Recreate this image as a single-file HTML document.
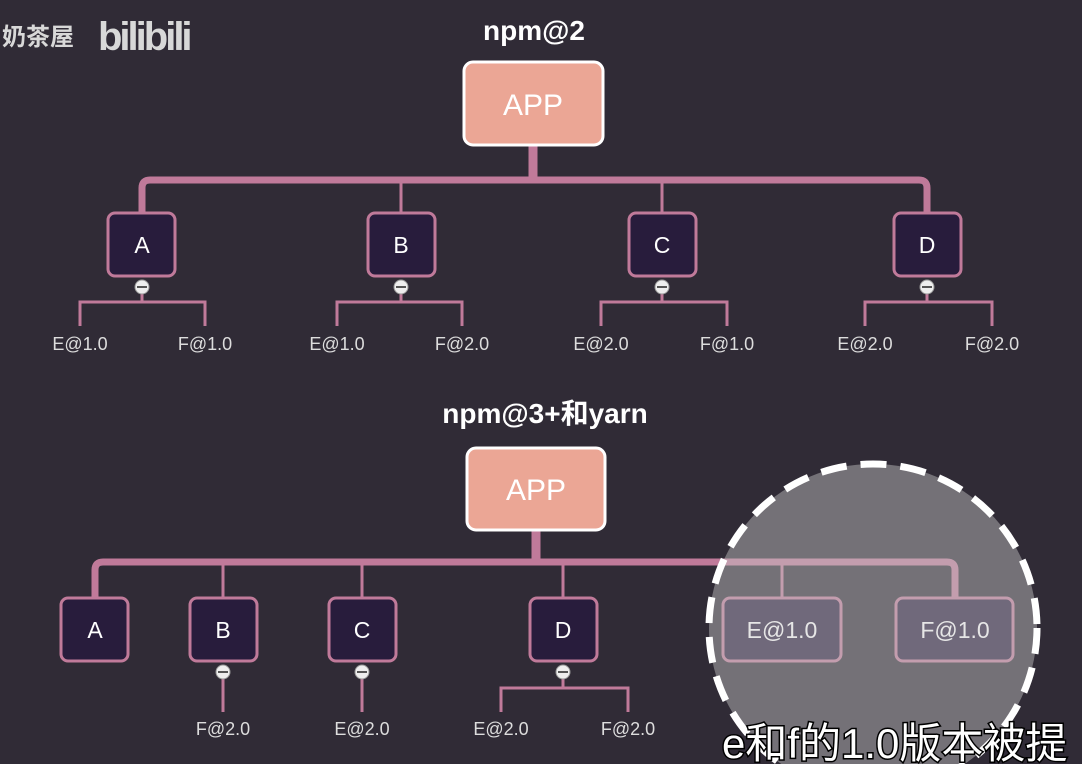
<!DOCTYPE html>
<html><head><meta charset="utf-8"><style>
html,body{margin:0;padding:0;background:#302b36;}
svg{display:block}
text{font-family:"Liberation Sans","Noto Sans CJK SC",sans-serif;}
</style></head><body>
<svg width="1082" height="764" viewBox="0 0 1082 764" xmlns="http://www.w3.org/2000/svg">
<rect width="1082" height="764" fill="#302b36"/>
<!-- watermark -->
<text x="2" y="45" font-size="24" fill="#d8d8d8" font-weight="bold">奶茶屋</text>
<text x="98" y="50" font-size="40" fill="#d8d8d8" font-weight="bold" letter-spacing="-3">bilibili</text>

<!-- TOP -->
<text x="534" y="40" font-size="28" fill="#fff" font-weight="bold" text-anchor="middle">npm@2</text>
<g fill="none" stroke="#c07a9a">
<path d="M533 146 V180" stroke-width="9"/>
<path d="M142 213 V188 Q142 180 150 180 H919 Q927 180 927 188 V213" stroke-width="7"/>
<path d="M401 180 V213 M662 180 V213" stroke-width="3"/>
<g stroke-width="3">
<path d="M142 290 V302 M80 326 V302 H205 V326"/>
<path d="M401 290 V302 M337 326 V302 H462 V326"/>
<path d="M662 290 V302 M601 326 V302 H727 V326"/>
<path d="M927 290 V302 M865 326 V302 H992 V326"/>
</g>
</g>
<rect x="464" y="62" width="139" height="83" rx="9" fill="#eba695" stroke="#fff" stroke-width="3"/>
<text x="533" y="115" font-size="30" fill="#fff" text-anchor="middle">APP</text>
<g stroke="#c07a9a" stroke-width="3" fill="#281c3c">
<rect x="108" y="213" width="67" height="63" rx="7"/>
<rect x="368" y="213" width="67" height="63" rx="7"/>
<rect x="629" y="213" width="67" height="63" rx="7"/>
<rect x="894" y="213" width="67" height="63" rx="7"/>
</g>
<g font-size="23" fill="#fff" text-anchor="middle">
<text x="142" y="253">A</text><text x="401" y="253">B</text><text x="662" y="253">C</text><text x="927" y="253">D</text>
</g>
<g fill="#eee" stroke="#999" stroke-width="1">
<circle cx="142" cy="287" r="7"/><circle cx="401" cy="287" r="7"/><circle cx="662" cy="287" r="7"/><circle cx="927" cy="287" r="7"/>
</g>
<g stroke="#555" stroke-width="2">
<path d="M137 287 H147 M396 287 H406 M657 287 H667 M922 287 H932"/>
</g>
<g font-size="18" fill="#ddd" text-anchor="middle">
<text x="80" y="350">E@1.0</text><text x="205" y="350">F@1.0</text>
<text x="337" y="350">E@1.0</text><text x="462" y="350">F@2.0</text>
<text x="601" y="350">E@2.0</text><text x="727" y="350">F@1.0</text>
<text x="865" y="350">E@2.0</text><text x="992" y="350">F@2.0</text>
</g>

<!-- BOTTOM -->
<text x="545" y="423" font-size="28" fill="#fff" font-weight="bold" text-anchor="middle">npm@3+和yarn</text>
<g fill="none" stroke="#c07a9a">
<path d="M536 531 V562" stroke-width="9"/>
<path d="M95 598 V570 Q95 562 103 562 H947 Q955 562 955 570 V598" stroke-width="7"/>
<path d="M223 562 V598 M362 562 V598 M563 562 V598 M782 562 V598" stroke-width="3"/>
<g stroke-width="3">
<path d="M223 675 V712"/>
<path d="M362 675 V712"/>
<path d="M563 675 V688 M501 712 V688 H628 V712"/>
</g>
</g>
<rect x="467" y="448" width="138" height="82" rx="9" fill="#eba695" stroke="#fff" stroke-width="3"/>
<text x="536" y="500" font-size="30" fill="#fff" text-anchor="middle">APP</text>
<g stroke="#c07a9a" stroke-width="3" fill="#281c3c">
<rect x="61" y="598" width="67" height="63" rx="7"/>
<rect x="190" y="598" width="67" height="63" rx="7"/>
<rect x="329" y="598" width="67" height="63" rx="7"/>
<rect x="530" y="598" width="67" height="63" rx="7"/>
<rect x="723" y="598" width="118" height="63" rx="7"/>
<rect x="896" y="598" width="117" height="63" rx="7"/>
</g>
<g font-size="23" fill="#fff" text-anchor="middle">
<text x="95" y="638">A</text><text x="223" y="638">B</text><text x="362" y="638">C</text><text x="563" y="638">D</text>
<text x="782" y="638">E@1.0</text><text x="955" y="638">F@1.0</text>
</g>
<g fill="#eee" stroke="#999" stroke-width="1">
<circle cx="223" cy="672" r="7"/><circle cx="362" cy="672" r="7"/><circle cx="563" cy="672" r="7"/>
</g>
<g stroke="#555" stroke-width="2"><path d="M218 672 H228 M357 672 H367 M558 672 H568"/></g>
<g font-size="18" fill="#ddd" text-anchor="middle">
<text x="223" y="735">F@2.0</text><text x="362" y="735">E@2.0</text>
<text x="501" y="735">E@2.0</text><text x="628" y="735">F@2.0</text>
</g>

<!-- highlight circle -->
<circle cx="873" cy="628" r="164" fill="#c8c8c8" fill-opacity="0.45" stroke="#fff" stroke-width="7" stroke-dasharray="26 14"/>

<!-- subtitle -->
<text x="722" y="758" font-size="42" fill="#fff" stroke="#000" stroke-width="3" paint-order="stroke">e和f的1.0版本被提</text>
</svg>
</body></html>
